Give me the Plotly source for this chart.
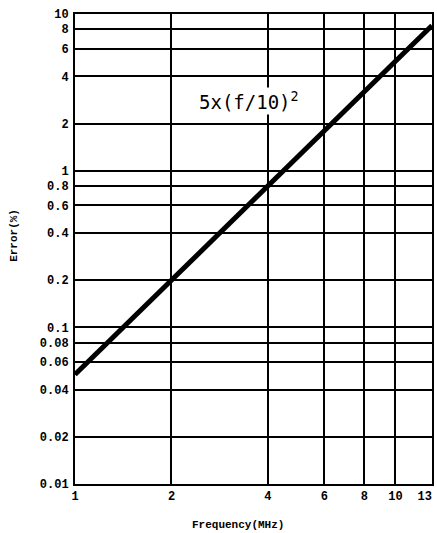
import plotly.graph_objects as go

freq_mhz = [1, 2, 4, 6, 8, 10, 13]
error_pct = [0.05, 0.2, 0.8, 1.8, 3.2, 5.0, 8.45]

x_ticks = [1, 2, 4, 6, 8, 10, 13]
x_tick_labels = ["1", "2", "4", "6", "8", "10", "13\u00a0\u00a0"]
y_ticks = [0.01, 0.02, 0.04, 0.06, 0.08, 0.1, 0.2, 0.4, 0.6, 0.8, 1, 2, 4, 6, 8, 10]
y_tick_labels = ["0.01", "0.02", "0.04", "0.06", "0.08", "0.1", "0.2", "0.4", "0.6", "0.8",
                 "1", "2", "4", "6", "8", "10"]

tick_font = dict(family="Liberation Mono", size=12, color="black", weight="bold")
title_font = dict(family="Liberation Mono", size=11, color="black", weight="bold")

fig = go.Figure()
fig.add_trace(go.Scatter(
    x=freq_mhz, y=error_pct, mode="lines",
    line=dict(color="black", width=5), showlegend=False, hoverinfo="skip"))

fig.update_xaxes(
    type="log", range=[0, 1.1139433523068367], automargin=False,
    tickvals=x_ticks, ticktext=x_tick_labels, tickfont=tick_font,
    showgrid=True, gridcolor="black", gridwidth=2,
    showline=True, linecolor="black", linewidth=2, mirror=True,
    ticks="", zeroline=False, ticklabelstandoff=0, ticklabeloverflow="allow")
fig.update_yaxes(
    type="log", range=[-2, 1], automargin=False,
    tickvals=y_ticks, ticktext=y_tick_labels, tickfont=tick_font,
    showgrid=True, gridcolor="black", gridwidth=2,
    showline=True, linecolor="black", linewidth=2, mirror=True,
    ticks="", zeroline=False, ticklabelstandoff=2, ticklabeloverflow="allow")

fig.add_annotation(
    text="5x(f/10)<sup>2</sup>", xref="paper", yref="paper", x=0.487, y=0.815,
    xanchor="center", yanchor="middle",
    showarrow=False, bgcolor="white",
    font=dict(family="DejaVu Sans Mono", size=19, color="black"))
fig.add_annotation(
    text="Frequency(MHz)", xref="paper", yref="paper", x=0.457, y=-0.087,
    xanchor="center", yanchor="middle", showarrow=False, font=title_font)
fig.add_annotation(
    text="Error(%)", xref="paper", yref="paper", x=-0.171, y=0.53,
    xanchor="center", yanchor="middle",
    textangle=-90, showarrow=False, font=title_font)

fig.update_layout(
    width=437, height=533,
    margin=dict(l=75, r=5, t=14, b=49, autoexpand=False),
    paper_bgcolor="white", plot_bgcolor="white",
)

# remove the default 8px page margin so the figure fills the window exactly
fig.write_html("out.html", config={"displayModeBar": False},
               post_script="document.body.style.margin='0px';")
